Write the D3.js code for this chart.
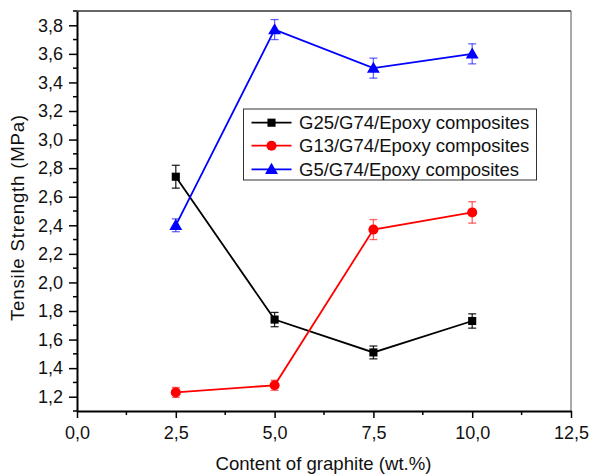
<!DOCTYPE html>
<html><head><meta charset="utf-8">
<script src="https://cdn.jsdelivr.net/npm/d3@7"></script>
<style>body{margin:0;background:#fff;} svg{display:block;} text{font-family:"Liberation Sans",Arial,sans-serif;}</style>
</head><body><svg id="c" width="590" height="476"></svg>
<script>
const graphite = [2.5, 5.0, 7.5, 10.0];
const g25 = [2.74, 1.74, 1.51, 1.73];
const g25Err = [0.08, 0.05, 0.045, 0.05];
const g13 = [1.23, 1.28, 2.37, 2.49];
const g13Err = [0.035, 0.035, 0.07, 0.075];
const g5 = [2.40, 3.77, 3.50, 3.60];
const g5Err = [0.045, 0.07, 0.07, 0.07];
const seriesNames = ["G25/G74/Epoxy composites", "G13/G74/Epoxy composites", "G5/G74/Epoxy composites"];
const xTicks = [0, 2.5, 5, 7.5, 10, 12.5];
const yTicks = [1.2,1.4,1.6,1.8,2.0,2.2,2.4,2.6,2.8,3.0,3.2,3.4,3.6,3.8];
const xTitle = "Content of graphite (wt.%)";
const yTitle = "Tensile Strength (MPa)";

const series = [
  {name: seriesNames[0], vals: g25, err: g25Err, color: "#000000", sym: d3.symbolSquare, size: 66},
  {name: seriesNames[1], vals: g13, err: g13Err, color: "#ff0000", sym: d3.symbolCircle, size: 80},
  {name: seriesNames[2], vals: g5, err: g5Err, color: "#0000ff", sym: d3.symbolTriangle, size: 72}
];

const L = 77, R = 571, T = 11, B = 411;
const x = d3.scaleLinear().domain([0, 12.5]).range([L, R]);
const y = d3.scaleLinear().domain([1.1, 3.9]).range([B, T]);
const fmt = v => d3.format(".1f")(v).replace(".", ",");
const svg = d3.select("#c");

// frame top/right
svg.append("line").attr("x1", L).attr("x2", R).attr("y1", T).attr("y2", T).attr("stroke", "#333").attr("stroke-width", 1.5);
svg.append("line").attr("x1", R).attr("x2", R).attr("y1", T).attr("y2", B).attr("stroke", "#555").attr("stroke-width", 1);

// x axis
const xAxis = d3.axisBottom(x).tickValues(xTicks).tickFormat(fmt).tickSizeOuter(0).tickSizeInner(7).tickPadding(8);
const gx = svg.append("g").attr("transform", `translate(0,${B})`).call(xAxis);
const xMinor = xTicks.slice(0, -1).map(v => v + 1.25);
gx.selectAll(".minor").data(xMinor).enter().append("line").attr("class", "minor")
  .attr("x1", d => x(d)).attr("x2", d => x(d)).attr("y1", 0).attr("y2", 4).attr("stroke", "#000").attr("stroke-width", 1.5);

// y axis
const yAxis = d3.axisLeft(y).tickValues(yTicks).tickFormat(fmt).tickSizeOuter(0).tickSizeInner(8).tickPadding(6);
const gy = svg.append("g").attr("transform", `translate(${L},0)`).call(yAxis);
const yMinor = [1.1].concat(yTicks.map(v => v + 0.1));
gy.selectAll(".minor").data(yMinor).enter().append("line").attr("class", "minor")
  .attr("x1", 0).attr("x2", -4).attr("y1", d => y(d)).attr("y2", d => y(d)).attr("stroke", "#000").attr("stroke-width", 1.5);

[gx, gy].forEach(g => {
  g.select(".domain").attr("stroke", "#000").attr("stroke-width", 2);
  g.selectAll(".tick line").attr("stroke", "#000").attr("stroke-width", 1.5);
  g.selectAll(".tick text").attr("font-size", 18).attr("fill", "#111").attr("font-family", "Liberation Sans, Arial, sans-serif");
});

// titles
svg.append("text").attr("x", 323.5).attr("y", 470).attr("text-anchor", "middle")
  .attr("font-size", 18.6).attr("fill", "#111").text(xTitle);
svg.append("text").attr("transform", `translate(23.5,${218}) rotate(-90)`).attr("text-anchor", "middle")
  .attr("font-size", 18.6).attr("textLength", 206).attr("lengthAdjust", "spacing").attr("fill", "#111").text(yTitle);

// series
series.forEach(s => {
  const pts = graphite.map((g, i) => ({x: g, v: s.vals[i], e: s.err[i]}));
  svg.append("path").datum(pts).attr("fill", "none").attr("stroke", s.color).attr("stroke-width", 1.8)
    .attr("d", d3.line().x(d => x(d.x)).y(d => y(d.v)));
  const eg = svg.append("g").attr("stroke", s.color).attr("stroke-opacity", s.color === "#000000" ? 0.85 : 0.6).attr("stroke-width", 1.3);
  pts.forEach(d => {
    const cx = x(d.x), y1 = y(d.v + d.e), y2 = y(d.v - d.e);
    eg.append("line").attr("x1", cx).attr("x2", cx).attr("y1", y1).attr("y2", y2);
    eg.append("line").attr("x1", cx - 4).attr("x2", cx + 4).attr("y1", y1).attr("y2", y1);
    eg.append("line").attr("x1", cx - 4).attr("x2", cx + 4).attr("y1", y2).attr("y2", y2);
  });
  svg.append("g").selectAll("path").data(pts).enter().append("path")
    .attr("transform", d => `translate(${x(d.x)},${y(d.v) + (s.sym === d3.symbolTriangle ? 1 : 0)})`)
    .attr("d", d3.symbol().type(s.sym).size(s.size)).attr("fill", s.color);
});

// legend
const lg = svg.append("g");
lg.append("rect").attr("x", 243.5).attr("y", 109).attr("width", 293).attr("height", 71)
  .attr("fill", "#fff").attr("stroke", "#333").attr("stroke-width", 1);
const rowsY = [122.7, 145.7, 169.3];
series.forEach((s, i) => {
  const ry = rowsY[i];
  lg.append("line").attr("x1", 251.5).attr("x2", 291.5).attr("y1", ry).attr("y2", ry).attr("stroke", s.color).attr("stroke-width", 1.8);
  lg.append("path").attr("transform", `translate(271.5,${ry + (s.sym === d3.symbolTriangle ? 1 : 0)})`)
    .attr("d", d3.symbol().type(s.sym).size(s.size)).attr("fill", s.color);
  lg.append("text").attr("x", 299).attr("y", ry + 6.6).attr("font-size", 18.5).attr("fill", "#111").text(s.name);
});
</script></body></html>
